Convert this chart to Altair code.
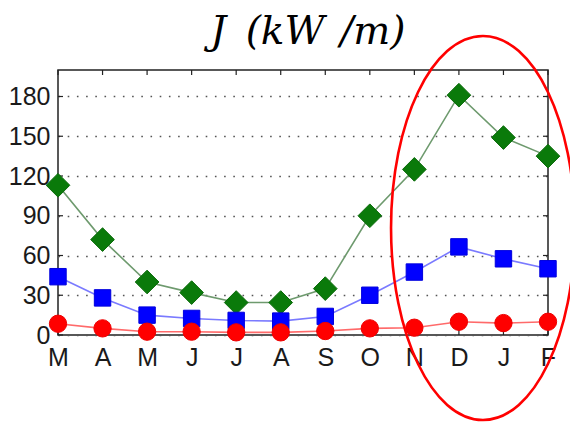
import altair as alt
import pandas as pd

months = ["M", "A", "M", "J", "J", "A", "S", "O", "N", "D", "J", "F"]
green_vals = [113, 72, 40, 32, 24.5, 24.5, 35, 90, 125, 181, 149, 135]
blue_vals = [44, 28, 15, 12.5, 11, 10.5, 14, 30, 47.5, 66.5, 57.5, 50]
red_vals = [8.5, 5, 2.5, 2.5, 2, 2, 3, 5, 5.5, 10, 9, 10]
y_ticks = [0, 30, 60, 90, 120, 150, 180]
title_text = "J\u2002(kW\u2009\u2009/m)"

W, H = 490, 265
idx = list(range(len(months)))

def frame(vals):
    return pd.DataFrame({"i": idx, "v": vals})

label_expr = "[" + ",".join("'%s'" % m for m in months) + "][datum.value]"

x_enc = alt.X("i:Q", scale=alt.Scale(domain=[0, len(months) - 1], nice=False, zero=False),
              axis=alt.Axis(values=idx, labelExpr=label_expr, ticks=False, grid=False, domain=False,
                            labelFontSize=25, labelFont="Liberation Sans", labelColor="#1a1a1a",
                            labelPadding=10, title=None, labelFlush=False))
y_enc = alt.Y("v:Q", scale=alt.Scale(domain=[0, 200], nice=False),
              axis=alt.Axis(values=y_ticks, ticks=False, domain=False, grid=True,
                            gridDash=[1.6, 7.6], gridColor="#555555", gridWidth=1.3,
                            labelFontSize=25, labelFont="Liberation Sans", labelColor="#1a1a1a",
                            labelPadding=8, title=None))

def series(vals, line_color, fill, stroke, shape, size):
    base = alt.Chart(frame(vals)).encode(x=x_enc, y=y_enc)
    line = base.mark_line(color=line_color, strokeWidth=1.6)
    pts = base.mark_point(shape=shape, size=size, filled=True, fill=fill, stroke=stroke,
                          strokeWidth=1, opacity=1)
    return line, pts

g_line, g_pts = series(green_vals, "#6e9a6e", "#0a7a0a", "#0a6a0a", "diamond", 560)
b_line, b_pts = series(blue_vals, "#7a7aff", "#0000ff", "#0000dd", "square", 270)
r_line, r_pts = series(red_vals, "#ff6a6a", "#ff0000", "#ee0000", "circle", 300)

# inward tick marks
xt = pd.DataFrame({"i": idx})
yt = pd.DataFrame({"v": y_ticks})
tick_style = dict(color="#222222", strokeWidth=1.2)
top_ticks = alt.Chart(xt).mark_rule(**tick_style).encode(x="i:Q", y=alt.value(0), y2=alt.value(5))
bot_ticks = alt.Chart(xt).mark_rule(**tick_style).encode(x="i:Q", y=alt.value(H), y2=alt.value(H - 5))
left_ticks = alt.Chart(yt).mark_rule(**tick_style).encode(y="v:Q", x=alt.value(0), x2=alt.value(5))
right_ticks = alt.Chart(yt).mark_rule(**tick_style).encode(y="v:Q", x=alt.value(W), x2=alt.value(W - 5))

# red ellipse annotation
rx, k = 0.479, 0.5523
kr = k * rx
ell_path = (f"M 0 -1 C {kr:.4f} -1 {rx} -{k} {rx} 0 C {rx} {k} {kr:.4f} 1 0 1 "
            f"C -{kr:.4f} 1 -{rx} {k} -{rx} 0 C -{rx} -{k} -{kr:.4f} -1 0 -1 Z")
ellipse = alt.Chart(pd.DataFrame({"a": [0]})).mark_point(
    shape=ell_path, size=384 * 384, filled=False, stroke="#ff0000", strokeWidth=2.6, opacity=1
).encode(x=alt.value(425), y=alt.value(158))

title = alt.Chart(pd.DataFrame({"t": [title_text]})).mark_text(
    font="DejaVu Serif", fontStyle="italic", fontSize=39, color="#000000",
    align="center", baseline="alphabetic"
).encode(text="t:N", x=alt.value(250), y=alt.value(-26))

chart = alt.layer(
    r_line, b_line, g_line,
    top_ticks, bot_ticks, left_ticks, right_ticks,
    g_pts, b_pts, r_pts,
    ellipse, title,
).properties(
    width=W, height=H,
    background="white",
    autosize=alt.AutoSizeParams(type="none"),
    padding={"left": 58, "top": 70, "right": 22, "bottom": 88},
).configure_view(stroke="#222222", strokeWidth=1.5)

chart.save("out.html", embed_options={"renderer": "svg", "actions": False})
